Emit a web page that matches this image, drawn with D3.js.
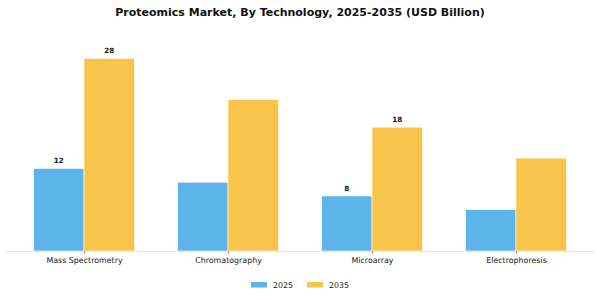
<!DOCTYPE html>
<html><head><meta charset="utf-8">
<script src="https://cdn.jsdelivr.net/npm/d3@7"></script>
<style>body{margin:0;background:#fff}svg{display:block;font-family:"DejaVu Sans",sans-serif}</style>
</head><body><svg id="c" width="600" height="300"></svg>
<script>
const categories = ["Mass Spectrometry","Chromatography","Microarray","Electrophoresis"];
const series = ["2025","2035"];
const values2025 = [12, 10, 8, 6];
const values2035 = [28, 22, 18, 13.5];
const labels2025 = ["12", "", "8", ""];
const labels2035 = ["28", "", "18", ""];
const colors = ["#5DB4E8", "#F9C44C"];

const svg = d3.select("#c");
const x = d3.scaleLinear().domain([-0.535, 3.535]).range([7, 593]);
const y = d3.scaleLinear().domain([0, 32]).range([251, 251 - 32 * 6.88]);
const bw = 0.35;

svg.append("text").attr("x", 300).attr("y", 16).attr("text-anchor", "middle")
  .attr("font-size", 11).attr("font-weight", "bold").attr("fill", "#111")
  .text("Proteomics Market, By Technology, 2025-2035 (USD Billion)");

const data = [values2025, values2035];
const labs = [labels2025, labels2035];
data.forEach((vals, s) => {
  const off = s === 0 ? -bw / 2 : bw / 2;
  svg.append("g").selectAll("rect").data(vals).join("rect")
    .attr("x", (d, i) => x(i + off - bw / 2))
    .attr("width", x(bw) - x(0))
    .attr("y", d => y(d))
    .attr("height", d => y(0) - y(d))
    .attr("fill", colors[s]).attr("stroke", "#fff").attr("stroke-width", 0.6);
  svg.append("g").selectAll("text").data(vals).join("text")
    .attr("x", (d, i) => x(i + off))
    .attr("y", d => y(d) - 5)
    .attr("text-anchor", "middle").attr("font-size", 7.2).attr("font-weight", "bold").attr("fill", "#111")
    .text((d, i) => labs[s][i]);
});

const axis = d3.axisBottom(x).tickValues([0,1,2,3]).tickFormat(i => categories[i]).tickSize(3).tickPadding(3);
const ag = svg.append("g").attr("transform", "translate(0,251)").call(axis);
ag.select(".domain").attr("stroke", "#e6e6e6").attr("stroke-width", 1);
ag.selectAll(".tick line").attr("stroke", "#999");
ag.selectAll(".tick text").attr("font-size", 7.9).attr("fill", "#222").attr("font-family", "DejaVu Sans");

const leg = svg.append("g");
const lx = [251, 307];
series.forEach((s, i) => {
  leg.append("rect").attr("x", lx[i]).attr("y", 282).attr("width", 16).attr("height", 5.5).attr("fill", colors[i]);
  leg.append("text").attr("x", lx[i] + 22).attr("y", 287.5).attr("font-size", 7.9).attr("fill", "#222").text(s);
});
</script></body></html>
